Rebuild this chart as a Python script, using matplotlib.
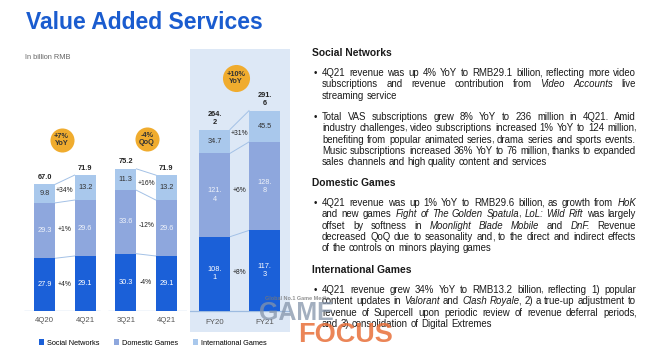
import numpy as np
import matplotlib
matplotlib.use("Agg")
import matplotlib.pyplot as plt
from matplotlib.patches import Patch
from matplotlib.transforms import IdentityTransform

plt.rcParams['font.family'] = ['Liberation Sans', 'DejaVu Sans']

W, H = 660, 357

# quarterly data (billion RMB)
q_labels = ['4Q20', '4Q21', '3Q21', '4Q21']
q_social = [27.9, 29.1, 30.3, 29.1]
q_domestic = [29.3, 29.6, 33.6, 29.6]
q_intl = [9.8, 13.2, 11.3, 13.2]
q_change = [['+4%', '+1%', '+34%'], ['-4%', '-12%', '+16%']]
q_badges = ['+7%\nYoY', '-4%\nQoQ']

# full year data
fy_labels = ['FY20', 'FY21']
fy_social = [108.1, 117.3]
fy_domestic = [121.4, 128.8]
fy_intl = [34.7, 45.5]
fy_change = ['+8%', '+6%', '+31%']
fy_badge = '+10%\nYoY'

series_names = ['Social Networks', 'Domestic Games', 'International Games']

COLORS = ['#1b60d8', '#8ea7dd', '#a9c8ec']
VAL_COLORS = ['white', '#eef2fa', '#333333']
LINE = '#a3c1e6'
ORANGE = '#f0ac2e'
PANEL = '#dde8f6'
BLUE_TITLE = '#1a5ccf'
TXT = '#1a1a1a'

VAL_FS = 5.3
TICK_FS = 5.6
BODY_FS = 6.9
HEAD_FS = 7.4


def fmt(v):
  s = '{:.1f}'.format(v)
  if len(s) > 4:  # long numbers wrap after the dot like in the slide
    s = s[:-1] + '\n' + s[-1]
  return s


def stacked(ax, xs, layers, width, pairs, changes):
  xs = np.array(xs, dtype=float)
  bottoms = np.zeros(len(xs))
  segs = []
  for vals, col, tcol in zip(layers, COLORS, VAL_COLORS):
    vals = np.array(vals)
    ax.bar(xs, vals, width, bottom=bottoms, color=col, zorder=2)
    for x, b, v in zip(xs, bottoms, vals):
      ax.text(x, b + v / 2, fmt(v), ha='center', va='center', color=tcol,
              fontsize=VAL_FS, linespacing=1.25, zorder=3)
    segs.append((bottoms.copy(), bottoms + vals))
    bottoms = bottoms + vals
  for x, t in zip(xs, bottoms):
    ax.annotate(fmt(round(t, 1)), (x, t), xytext=(0, 2.5), textcoords='offset points',
                ha='center', va='bottom', fontsize=VAL_FS, fontweight='bold',
                color='#222222', linespacing=1.25)
  # connector lines + change labels between compared bars
  for (i, j), chg in zip(pairs, changes):
    for (bot, top), c in zip(segs, chg):
      ax.plot([xs[i] + width / 2, xs[j] - width / 2], [top[i], top[j]],
              color=LINE, lw=0.7, zorder=1)
      ym = ((bot[i] + top[i]) / 2 + (bot[j] + top[j]) / 2) / 2
      ax.text((xs[i] + xs[j]) / 2, ym, c, ha='center', va='center',
              fontsize=4.9, color='#222222')


def badge(ax, x, y, txt, size):
  ax.scatter([x], [y], s=size, color=ORANGE, zorder=4, linewidths=0)
  ax.text(x, y, txt, ha='center', va='center', fontsize=VAL_FS, fontweight='bold',
          color='#333333', linespacing=1.05, zorder=5)


fig = plt.figure(figsize=(W / 100, H / 100), dpi=100)

# ---- quarterly axes: baseline at y=311px, 1.89 px per unit
axq = fig.add_axes([24.2 / W, (H - 311) / H, 162.6 / W, 189 / H])
axq.set_xlim(-0.5, 3.5)
axq.set_ylim(0, 100)
axq.set_facecolor('none')
xq = np.arange(len(q_labels))
stacked(axq, xq, [q_social, q_domestic, q_intl], 0.52, [(0, 1), (2, 3)], q_change)
axq.hlines(0, xq[0] - 0.5, xq[1] + 0.37, color='#9dbbe0', lw=0.9, zorder=1)
axq.hlines(0, xq[2] - 0.44, xq[3] + 0.5, color='#9dbbe0', lw=0.9, zorder=1)
badge(axq, 0.42, 90.5, q_badges[0], 300)
badge(axq, 2.52, 91, q_badges[1], 300)
axq.set_xticks(xq)
axq.set_xticklabels(q_labels, fontsize=TICK_FS, color='#555555')
axq.tick_params(length=0, pad=4.5)
axq.set_yticks([])
for s in axq.spines.values():
  s.set_visible(False)

# ---- full year axes on the shaded panel: 0.687 px per unit
axf = fig.add_axes([189.5 / W, (H - 332) / H, 100 / W, 283 / H])
axf.set_xlim(-0.5, 1.5)
axf.set_ylim(-30.6, 381.4)
axf.set_facecolor(PANEL)
xf = np.arange(len(fy_labels))
stacked(axf, xf, [fy_social, fy_domestic, fy_intl], 0.62, [(0, 1)], [fy_change])
axf.axhline(0, color='#9dbbe0', lw=0.9, zorder=1)
badge(axf, 0.43, 339, fy_badge, 380)
axf.set_xticks(xf)
axf.set_xticklabels(fy_labels, fontsize=TICK_FS, color='#555555')
axf.tick_params(axis='x', length=0, pad=-9.5)
axf.set_yticks([])
for s in axf.spines.values():
  s.set_visible(False)

# ---- titles
fig.text(26 / W, 1 - 29.3 / H, 'Value Added Services', fontsize=16.5, fontweight='bold',
         color=BLUE_TITLE, va='baseline')
fig.text(25 / W, 1 - 59 / H, 'In billion RMB', fontsize=5.3, color='#666666', va='baseline')

handles = [Patch(facecolor=c, edgecolor='none', label=n) for c, n in zip(COLORS, series_names)]
fig.legend(handles=handles, loc='center left', bbox_to_anchor=(39 / W, 1 - 343 / H),
           ncol=3, frameon=False, fontsize=5.3, handlelength=0.7, handleheight=0.7,
           handletextpad=0.35, columnspacing=2.05, borderpad=0, borderaxespad=0)

# ---- right hand commentary (justified like the slide)
sections = [
  ('Social Networks', 53, [
    (73, ["4Q21 revenue was up 4% YoY to RMB29.1 billion, reflecting more video",
          "subscriptions and revenue contribution from |Video Accounts| live",
          "streaming service"]),
    (117, ["Total VAS subscriptions grew 8% YoY to 236 million in 4Q21. Amid",
           "industry challenges, video subscriptions increased 1% YoY to 124 million,",
           "benefiting from popular animated series, drama series and sports events.",
           "Music subscriptions increased 36% YoY to 76 million,  thanks to expanded",
           "sales channels and high quality content and services"]),
  ]),
  ('Domestic Games', 183, [
    (203, ["4Q21 revenue was up 1% YoY to RMB29.6 billion, as growth from |HoK|",
           "and new games |Fight of The Golden Spatula|, |LoL: Wild Rift| was largely",
           "offset by softness in |Moonlight Blade Mobile| and |DnF.| Revenue",
           "decreased QoQ due to seasonality and, to the direct and indirect effects",
           "of the controls on minors playing games"]),
  ]),
  ('International Games', 270, [
    (290, ["4Q21 revenue grew 34% YoY to RMB13.2 billion, reflecting 1) popular",
           "content updates in |Valorant| and |Clash Royale|, 2) a true-up adjustment to",
           "revenue of Supercell upon periodic review of revenue deferral periods,",
           "and 3) consolidation of Digital Extremes"]),
  ]),
]

LINE_H = 11.35
X_HEAD, X_BUL, X0, X1 = 312, 314, 322, 636
COMMA_NUDGE = 1.3  # pull split-off commas back against their word


def parse(line):
  # words as lists of (text, italic) runs; commas get their own run so that
  # agg's per-glyph descent rounding does not lift the whole word
  words, cur, run, italic = [], [], '', False
  for ch in line:
    if ch == '|':
      if run:
        cur.append((run, italic))
        run = ''
      italic = not italic
    elif ch == ' ':
      if run:
        cur.append((run, italic))
        run = ''
      if cur:
        words.append(cur)
        cur = []
    elif ch == ',':
      if run:
        cur.append((run, italic))
      cur.append((',', italic))
      run = ''
    else:
      run += ch
  if run:
    cur.append((run, italic))
  if cur:
    words.append(cur)
  return words


renderer = fig.canvas.get_renderer()
ident = IdentityTransform()


def put(x, y, s, **kw):
  # y in pixels from the top; snap baseline to whole pixels so words line up
  return fig.text(x, H - round(y), s, transform=ident, va='baseline', **kw)


probe = put(0, 100, 'x x', fontsize=BODY_FS)
probe2 = put(0, 100, 'xx', fontsize=BODY_FS)
SPACE = probe.get_window_extent(renderer).width - probe2.get_window_extent(renderer).width
probe.remove()
probe2.remove()


def draw_line(line, y, justify):
  placed = []
  for w in parse(line):
    runs = []
    for s, it in w:
      t = put(0, y, s, fontsize=BODY_FS, color=TXT, style='italic' if it else 'normal')
      wd = t.get_window_extent(renderer).width
      if s == ',':
        wd -= COMMA_NUDGE
      runs.append((t, s, wd))
    placed.append(runs)
  widths = [sum(r[2] for r in rs) for rs in placed]
  gap = SPACE
  if justify and len(placed) > 1:
    gap = (X1 - X0 - sum(widths)) / (len(placed) - 1)
  x = X0
  for runs, wd in zip(placed, widths):
    xx = x
    for t, s, w in runs:
      t.set_x(xx - COMMA_NUDGE if s == ',' else xx)
      xx += w
    x += wd + gap


for head, hy, paras in sections:
  put(X_HEAD, hy + 3, head, fontsize=HEAD_FS, fontweight='bold', color=TXT)
  for py, lines in paras:
    put(X_BUL, py + 3, '\u2022', fontsize=BODY_FS, color=TXT)
    for k, ln in enumerate(lines):
      draw_line(ln, py + 3 + k * LINE_H, k < len(lines) - 1)

# watermark of the source site
put(265, 300, 'Global No.1 Game Media', fontsize=4, fontweight='bold', color='#777777', alpha=0.8)
put(259, 320, 'GAME', fontsize=18, fontweight='bold', color='#8494aa', alpha=0.75)
put(298, 342, 'FOCUS', fontsize=19.5, fontweight='bold', color='#e8703a', alpha=0.85)

fig.savefig('out.png', dpi=100)
